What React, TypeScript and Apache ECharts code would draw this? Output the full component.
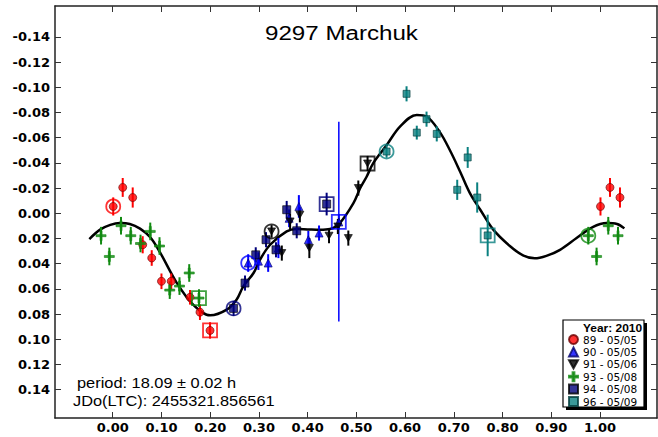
import React, { useEffect, useRef } from "react";
import * as echarts from "echarts";

// ---- Lightcurve observations: rotational phase, relative magnitude, 1-sigma error ----
const phase89 = [0.001, 0.0205, 0.041, 0.0615, 0.08, 0.1, 0.12, 0.1586, 0.179, 0.1997];
const mag89 = [-0.0054, -0.0205, -0.0125, 0.025, 0.0355, 0.054, 0.054, 0.0667, 0.0785, 0.093];
const err89 = [0.0072, 0.0075, 0.008, 0.0068, 0.0062, 0.0062, 0.0062, 0.0058, 0.0062, 0.0065];

const phase90 = [0.278, 0.299, 0.319, 0.34, 0.362, 0.382, 0.4014, 0.4234, 0.464];
const mag90 = [0.0395, 0.038, 0.0395, 0.0276, 0.004, -0.0054, 0.021, 0.0157, 0.0069];
const err90 = [0.007, 0.007, 0.007, 0.008, 0.007, 0.009, 0.007, 0.006, 0.006];

const phase91 = [0.326, 0.347, 0.364, 0.384, 0.4035, 0.4439, 0.462, 0.4835, 0.504, 0.523];
const mag91 = [0.0144, 0.0316, 0.0065, 0.0012, 0.0276, 0.0178, 0.0105, 0.0197, -0.02, -0.0395];
const err91 = [0.005, 0.006, 0.006, 0.006, 0.008, 0.006, 0.006, 0.006, 0.006, 0.006];

const phase93 = [0.017, 0.037, 0.057, 0.077, 0.096, 0.117, 0.137, 0.157, 0.177, 0.976, 0.993];
const mag93 = [0.0099, 0.0178, 0.024, 0.0144, 0.026, 0.061, 0.0578, 0.0474, 0.0673, 0.0178, 0.0343];
const err93 = [0.007, 0.007, 0.007, 0.007, 0.007, 0.007, 0.007, 0.007, 0.007, 0.007, 0.007];

const phase94 = [0.248, 0.2715, 0.2935, 0.3146, 0.335, 0.357, 0.3776, 0.439];
const mag94 = [0.0755, 0.0554, 0.033, 0.021, 0.029, -0.0028, 0.0139, -0.0073];
const err94 = [0.006, 0.006, 0.006, 0.006, 0.006, 0.007, 0.006, 0.009];

const phase96 = [0.562, 0.603, 0.624, 0.644, 0.665, 0.707, 0.7285, 0.748, 0.7695];
const mag96 = [-0.049, -0.0948, -0.064, -0.0747, -0.063, -0.0186, -0.0443, -0.0125, 0.0176];
const err96 = [0.005, 0.006, 0.0055, 0.006, 0.006, 0.008, 0.0083, 0.012, 0.0165];

// first (ringed) and last (boxed) observation of each session
const ringIdx = [0, 0, 0, 9, 0, 0];
const boxIdx = [9, 8, 9, 8, 7, 8];

// Fourier fit of the composite lightcurve
const fitPhase = [
  -0.048, -0.026, -0.005, 0.015, 0.035, 0.056, 0.077, 0.097, 0.131, 0.165, 0.2, 0.234, 0.254,
  0.268, 0.289, 0.302, 0.323, 0.357, 0.378, 0.4, 0.425, 0.446, 0.466, 0.494, 0.508, 0.521,
  0.535, 0.562, 0.59, 0.624, 0.644, 0.671, 0.692, 0.713, 0.733, 0.754, 0.781, 0.815, 0.842,
  0.866, 0.89, 0.918, 0.952, 0.985, 1.014, 1.035, 1.05,
];
const fitMag = [
  0.0205, 0.013, 0.0092, 0.0078, 0.0085, 0.0122, 0.019, 0.031, 0.055, 0.0726, 0.081, 0.0765,
  0.0686, 0.058, 0.0474, 0.037, 0.025, 0.0144, 0.0125, 0.0128, 0.0131, 0.0125, 0.0078, -0.008,
  -0.02, -0.029, -0.04, -0.054, -0.069, -0.078, -0.0768, -0.0646, -0.05, -0.033, -0.016,
  -0.003, 0.013, 0.026, 0.0334, 0.0358, 0.0338, 0.029, 0.0197, 0.011, 0.0078, 0.0085, 0.012,
];

// vertical phase marker
const markerPhase = 0.464;
const markerMag = [-0.0726, 0.086];

const xTicks = [0, 0.1, 0.2, 0.3, 0.4, 0.5, 0.6, 0.7, 0.8, 0.9, 1.0];
const yTicks = [-0.14, -0.12, -0.1, -0.08, -0.06, -0.04, -0.02, 0, 0.02, 0.04, 0.06, 0.08, 0.1, 0.12, 0.14];

const sessionNames = ["89 - 05/05", "90 - 05/05", "91 - 05/06", "93 - 05/08", "94 - 05/08", "96 - 05/09"];

const titleText = "9297 Marchuk";
const periodText = "period: 18.09 \u00b1 0.02 h";
const epochText = "JDo(LTC): 2455321.856561";
const legendTitle = "Year: 2010";

const X_MIN = -0.1185;
const X_MAX = 1.117;
const Y_MIN = -0.1645;
const Y_MAX = 0.1625;

const FONT = "'Liberation Sans', Arial, sans-serif";
const WIDE_FONT = "'DejaVu Sans', sans-serif";
const STRETCH = 1.17;

const DOWN_TRI = "path://M0,0L10,0L5,9Z";
const PLUS = "path://M4,0H6V10H4ZM0,4H10V6H0Z";

const styles = [
  { color: "#ff0000", border: "#6a0000", symbol: "circle", size: 8 },
  { color: "#0000ff", border: "#00006a", symbol: "triangle", size: 8 },
  { color: "#000000", border: "#000000", symbol: DOWN_TRI, size: [8, 7] },
  { color: "#118a11", border: "#118a11", symbol: PLUS, size: 10 },
  { color: "#00007a", border: "#000000", symbol: "rect", size: 8 },
  { color: "#0a8080", border: "#033c3c", symbol: "rect", size: 7 },
];

const sessions = [
  [phase89, mag89, err89],
  [phase90, mag90, err90],
  [phase91, mag91, err91],
  [phase93, mag93, err93],
  [phase94, mag94, err94],
  [phase96, mag96, err96],
];

// phase-folded points are repeated one cycle over near the plot edges
function folded(ph: number[], mg: number[], er: number[]) {
  const out: number[][] = [];
  ph.forEach((p, i) => {
    out.push([p, mg[i], er[i]]);
    if (p < 0.05) out.push([p + 1, mg[i], er[i]]);
    if (p > 0.95) out.push([p - 1, mg[i], er[i]]);
  });
  return out;
}

function label(text: string, x: number, y: number, font: string, scaleX = STRETCH) {
  return {
    type: "text",
    z: 21,
    x,
    y,
    scaleX,
    style: {
      text,
      font,
      textVerticalAlign: "middle",
      verticalAlign: "middle",
      fill: "#000",
    },
  };
}

function buildOption() {
  const series: any[] = [];

  series.push({
    type: "line",
    name: "fit",
    data: fitPhase.map((p, i) => [p, fitMag[i]]),
    smooth: 0.35,
    showSymbol: false,
    silent: true,
    lineStyle: { color: "#000", width: 2.5 },
    z: 2,
  });

  series.push({
    type: "line",
    name: "marker",
    data: markerMag.map((m) => [markerPhase, m]),
    showSymbol: false,
    silent: true,
    lineStyle: { color: "#0000ff", width: 1.5 },
    z: 2,
  });

  sessions.forEach(([ph, mg, er], k) => {
    const st = styles[k];
    const pts = folded(ph, mg, er);
    series.push({
      type: "custom",
      name: sessionNames[k] + " err",
      data: pts,
      encode: { x: 0, y: 1 },
      silent: true,
      z: 3,
      renderItem: (_params: any, api: any) => {
        const x = api.value(0);
        const y = api.value(1);
        const e = api.value(2);
        const a = api.coord([x, y - e]);
        const b = api.coord([x, y + e]);
        return {
          type: "line",
          shape: { x1: a[0], y1: a[1], x2: b[0], y2: b[1] },
          style: { stroke: st.color, lineWidth: 2 },
        };
      },
    });
    series.push({
      type: "scatter",
      name: sessionNames[k],
      data: pts.map((d) => [d[0], d[1]]),
      symbol: st.symbol,
      symbolSize: st.size,
      itemStyle: { color: st.color, borderColor: st.border, borderWidth: 0.8 },
      z: 4,
    });
    series.push({
      type: "scatter",
      name: sessionNames[k] + " ends",
      silent: true,
      data: [
        { value: [ph[ringIdx[k]], mg[ringIdx[k]]], symbol: "circle", symbolSize: 14 },
        { value: [ph[boxIdx[k]], mg[boxIdx[k]]], symbol: "rect", symbolSize: 14 },
      ],
      itemStyle: { color: "transparent", borderColor: st.color, borderWidth: 1.8 },
      z: 5,
    });
  });

  const axisLine = { show: true, onZero: false, lineStyle: { color: "#222", width: 1.5 } };
  const tickStyle = { color: "#333", width: 1 };
  const labelBase = { fontFamily: WIDE_FONT, fontWeight: "bold" as const, fontSize: 13, color: "#000" };

  return {
    animation: false,
    backgroundColor: "#fff",
    grid: { left: 55, right: 1, top: 6, bottom: 19, containLabel: false, outerBoundsMode: "none" },
    xAxis: [
      {
        type: "value",
        min: X_MIN,
        max: X_MAX,
        position: "bottom",
        axisLine,
        axisTick: { show: true, inside: true, length: 6, customValues: xTicks, lineStyle: tickStyle },
        axisLabel: { ...labelBase, margin: 3, customValues: xTicks, formatter: (v: number) => v.toFixed(2) },
        splitLine: { show: false },
      },
      {
        type: "value",
        min: X_MIN,
        max: X_MAX,
        position: "top",
        axisLine,
        axisTick: { show: true, inside: true, length: 6, customValues: xTicks, lineStyle: tickStyle },
        axisLabel: { show: false },
        splitLine: { show: false },
      },
    ],
    yAxis: [
      {
        type: "value",
        inverse: true,
        min: Y_MIN,
        max: Y_MAX,
        position: "left",
        axisLine,
        axisTick: { show: true, inside: true, length: 6, customValues: yTicks, lineStyle: tickStyle },
        axisLabel: { ...labelBase, margin: 5, customValues: yTicks, formatter: (v: number) => v.toFixed(2) },
        splitLine: { show: false },
      },
      {
        type: "value",
        inverse: true,
        min: Y_MIN,
        max: Y_MAX,
        position: "right",
        axisLine,
        axisTick: { show: true, inside: true, length: 6, customValues: yTicks, lineStyle: tickStyle },
        axisLabel: { show: false },
        splitLine: { show: false },
      },
    ],
    legend: {
      data: sessionNames.map((n, k) => ({ name: n, icon: styles[k].symbol })),
      orient: "vertical",
      left: 568,
      top: 334,
      itemWidth: 9,
      itemHeight: 9,
      itemGap: 1.4,
      padding: 0,
      selectedMode: false,
      textStyle: { fontFamily: WIDE_FONT, fontSize: 10.5, color: "#000" },
      z: 20,
    },
    graphic: [
      { type: "rect", z: 15, shape: { x: 566, y: 323, width: 81, height: 87 }, style: { fill: "#000" } },
      {
        type: "rect",
        z: 16,
        shape: { x: 563, y: 320, width: 81, height: 87 },
        style: { fill: "#fff", stroke: "#000", lineWidth: 1.2 },
      },
      label(legendTitle, 583, 327.5, `bold 11.5px ${FONT}`, 1.04),
      label(titleText, 265, 33.5, `21px ${FONT}`, 1.15),
      label(periodText, 77, 383, `14px ${FONT}`),
      label(epochText, 73, 401, `14px ${FONT}`),
    ],
    series,
  };
}

export default function App() {
  const ref = useRef<HTMLDivElement>(null);
  useEffect(() => {
    if (!ref.current) return;
    const chart = echarts.init(ref.current, null, { renderer: "svg" });
    chart.setOption(buildOption() as any);
    return () => chart.dispose();
  }, []);
  return (
    <div
      ref={ref}
      style={{ position: "fixed", left: 0, top: 0, width: 658, height: 437, background: "#fff" }}
    />
  );
}
